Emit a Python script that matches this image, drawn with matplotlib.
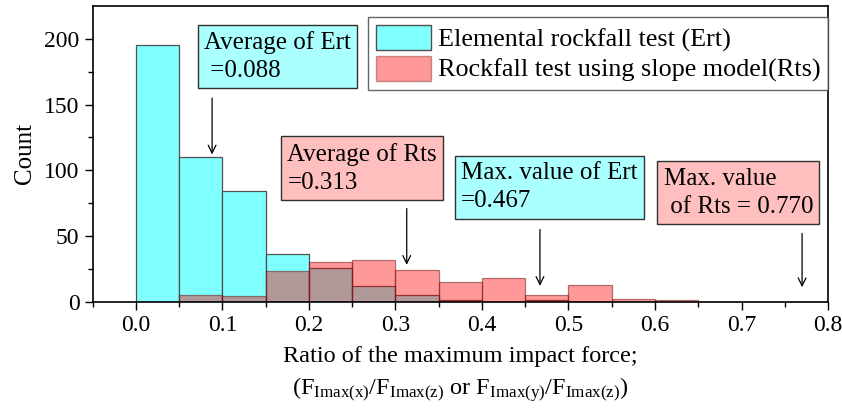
import numpy as np
import matplotlib
matplotlib.use('Agg')
import matplotlib.pyplot as plt
from matplotlib.patches import Patch

plt.rcParams['font.family'] = 'Liberation Serif'
plt.rcParams['mathtext.fontset'] = 'custom'
plt.rcParams['mathtext.rm'] = 'Liberation Serif'
plt.rcParams['mathtext.it'] = 'Liberation Serif'

# Histogram counts per 0.05-wide bin, starting at 0.0
bin_width = 0.05
bin_left = [0.00, 0.05, 0.10, 0.15, 0.20, 0.25, 0.30, 0.35,
            0.40, 0.45, 0.50, 0.55, 0.60, 0.65, 0.70, 0.75]
ert_counts = [195, 110, 84, 36, 26, 12, 5, 1, 0, 1, 0, 0, 0, 0, 0, 0]
rts_counts = [0, 5, 4, 23, 30, 32, 24, 15, 18, 5, 13, 2, 1, 0, 0, 0]

ert_label = 'Elemental rockfall test (Ert)'
rts_label = 'Rockfall test using slope model(Rts)'

ert_mean, rts_mean = 0.088, 0.313
ert_max, rts_max = 0.467, 0.770

fig = plt.figure(figsize=(8.42, 4.15), dpi=100)
ax = fig.add_axes([0.1101, 0.273, 0.8733, 0.7125])

cyan = (0.5, 1.0, 1.0)
red = (1.0, 0.0, 0.0, 0.4)

ax.bar(bin_left, ert_counts, width=bin_width, align='edge',
       color=cyan, edgecolor='#505050', linewidth=0.9)
ax.bar(bin_left, rts_counts, width=bin_width, align='edge',
       color=red, edgecolor=(0.45, 0.1, 0.1, 0.55), linewidth=0.9)

ax.set_xlim(-0.05, 0.8)
ax.set_ylim(0, 225)
ax.set_xticks(np.arange(0, 0.81, 0.1))
ax.set_xticks(np.arange(-0.05, 0.81, 0.05), minor=True)
ax.set_yticks([0, 50, 100, 150, 200])
ax.set_yticks(np.arange(25, 225, 50), minor=True)
ax.tick_params(which='major', direction='out', length=6, width=1,
               labelsize=17)
ax.tick_params(which='minor', direction='out', length=3.5, width=1)
for s in ax.spines.values():
    s.set_linewidth(1.2)

ax.set_ylabel('Count', fontsize=18, labelpad=6)
ax.set_xlabel('Ratio of the maximum impact force;\n'
              r'(F$_{\mathrm{Imax(x)}}$/F$_{\mathrm{Imax(z)}}$ or '
              r'F$_{\mathrm{Imax(y)}}$/F$_{\mathrm{Imax(z)}}$)',
              fontsize=17.5, labelpad=7, linespacing=1.45)

handles = [Patch(facecolor=cyan, edgecolor='#505050'),
           Patch(facecolor=red, edgecolor=(0.45, 0.1, 0.1, 0.4))]
leg = ax.legend(handles, [ert_label, rts_label], loc='upper right',
                bbox_to_anchor=(1.0, 0.963), fontsize=18.8, frameon=True,
                fancybox=False, edgecolor='#404040', handlelength=2.1,
                handleheight=1.1, handletextpad=0.25, borderpad=0.3,
                labelspacing=0.15, borderaxespad=0.0)
leg.get_frame().set_linewidth(1.0)

box_cyan = dict(boxstyle='square,pad=0.25', facecolor='#aaffff',
                edgecolor='#303030', linewidth=1.0)
box_red = dict(boxstyle='square,pad=0.25', facecolor='#ffbfbf',
               edgecolor='#303030', linewidth=1.0)

notes = [
    ('Average of Ert\n =' + f'{ert_mean:.3f}', 0.079, 206, box_cyan,
     ert_mean, 157, ert_counts[1]),
    ('Average of Rts\n=' + f'{rts_mean:.3f}', 0.175, 121, box_red,
     rts_mean, 73, 26),
    ('Max. value of Ert\n=' + f'{ert_max:.3f}', 0.376, 106, box_cyan,
     ert_max, 57, 10),
    ('Max. value\n of Rts = ' + f'{rts_max:.3f}', 0.610, 102, box_red,
     rts_max, 54, 9),
]
for text, tx, ty, box, ax_x, y0, y1 in notes:
    ax.text(tx, ty, text, ha='left', va='top', fontsize=18,
            linespacing=1.35, bbox=box, zorder=5)
    ax.annotate('', xy=(ax_x, y1), xytext=(ax_x, y0),
                arrowprops=dict(arrowstyle='->', color='black', lw=0.9,
                                mutation_scale=14))

fig.savefig('out.png', dpi=100)
